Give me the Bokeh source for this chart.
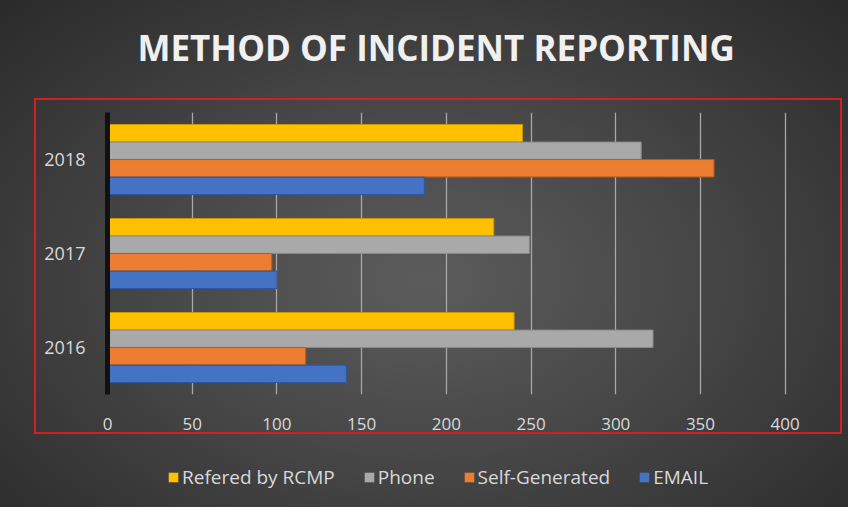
from bokeh.plotting import figure
from bokeh.layouts import column
from bokeh.models import FactorRange, Range1d, Legend, LegendItem, ColumnDataSource, FixedTicker
from bokeh.transform import dodge
from bokeh.embed import file_html
from bokeh.resources import INLINE

years = ["2016", "2017", "2018"]
series = ["Refered by RCMP", "Phone", "Self-Generated", "EMAIL"]
rcmp = [240, 228, 245]
phone = [322, 249, 315]
self_gen = [117, 97, 358]
email = [141, 100, 187]
x_ticks = [0, 50, 100, 150, 200, 250, 300, 350, 400]
title_text = "METHOD  OF INCIDENT  REPORTING"

colors = ["#FFC000", "#A9A9A9", "#ED7D31", "#4472C4"]
edges = ["#C89600", "#8A8A8A", "#B85A1C", "#2F55A0"]
offsets = [0.28, 0.093, -0.093, -0.28]
cols = ["rcmp", "phone", "self_gen", "email"]

src = ColumnDataSource(dict(year=years, rcmp=rcmp, phone=phone, self_gen=self_gen, email=email))

FONT = "Open Sans"
W = 848
H_TOP, H_MAIN, H_LEG = 98, 352, 57


def blank(fig):
    fig.outline_line_color = None
    fig.border_fill_alpha = 0
    fig.background_fill_alpha = 0


# title strip
tf = figure(width=W, height=H_TOP, output_backend="svg", toolbar_location=None,
            x_range=Range1d(0, 1), y_range=Range1d(0, 1), min_border=0,
            x_axis_type=None, y_axis_type=None)
tf.grid.visible = False
blank(tf)
tf.title.text = title_text
tf.title.align = "left"
tf.title.offset = 30
tf.title.text_font = FONT
tf.title.text_font_size = "35px"
tf.title.text_font_style = "bold"
tf.title.text_color = "#f0f0f0"
tf.title.standoff = 55

# main chart
p = figure(width=W, height=H_MAIN, output_backend="svg", toolbar_location=None,
           y_range=FactorRange(factors=years), x_range=Range1d(0, 412),
           min_border_left=107, min_border_right=43, min_border_top=14, min_border_bottom=56)
blank(p)

for name, col, c, e, off in zip(series, cols, colors, edges, offsets):
    p.hbar(y=dodge("year", off, range=p.y_range), left=0, right=col, height=0.185,
           source=src, fill_color=c, line_color=e, line_width=1)

p.xgrid.ticker = FixedTicker(ticks=x_ticks)
p.xgrid.grid_line_color = "#a8a8a8"
p.xgrid.grid_line_width = 1.3
p.ygrid.grid_line_color = None

p.xaxis.ticker = FixedTicker(ticks=x_ticks)
p.xaxis.axis_line_color = None
p.xaxis.major_tick_line_color = None
p.xaxis.minor_tick_line_color = None
p.xaxis.major_label_standoff = 17
p.xaxis.major_label_text_font = FONT
p.xaxis.major_label_text_font_size = "17px"
p.xaxis.major_label_text_color = "#d9d9d9"

p.yaxis.axis_line_color = "#111111"
p.yaxis.axis_line_width = 5
p.yaxis.major_tick_line_color = None
p.yaxis.minor_tick_line_color = None
p.yaxis.major_label_standoff = 16
p.yaxis.major_label_text_font = FONT
p.yaxis.major_label_text_font_size = "18px"
p.yaxis.major_label_text_color = "#d9d9d9"

# legend strip
lf = figure(width=W, height=H_LEG, output_backend="svg", toolbar_location=None,
            x_range=Range1d(0, 1), y_range=Range1d(0, 1), min_border=0,
            x_axis_type=None, y_axis_type=None)
lf.grid.visible = False
blank(lf)
items = []
for name, c in zip(series, colors):
    r = lf.hbar(y=[0], left=[0], right=[0], height=0.0, fill_color=c, line_color=None)
    items.append(LegendItem(label=name, renderers=[r]))
legend = Legend(items=items, orientation="horizontal", location=(60, 17),
                background_fill_alpha=0, border_line_color=None,
                label_text_font=FONT, label_text_font_size="19px", label_text_color="#d9d9d9",
                glyph_width=12, glyph_height=12, label_standoff=3, spacing=28,
                padding=4, margin=0)
lf.add_layout(legend)

layout = column(tf, p, lf, spacing=0)
layout.styles = {"background": "radial-gradient(ellipse at 50% 55%, #5c5c5c 0%, #474747 45%, #2a2a2a 100%)"}
layout.stylesheets = [":host { position: relative; } :host::after { content: ''; position: absolute; "
                      "left: 34px; top: 98px; width: 804px; height: 332px; border: 2px solid #d21f1f; "
                      "pointer-events: none; }"]

open("out.html", "w").write(file_html(layout, INLINE))
